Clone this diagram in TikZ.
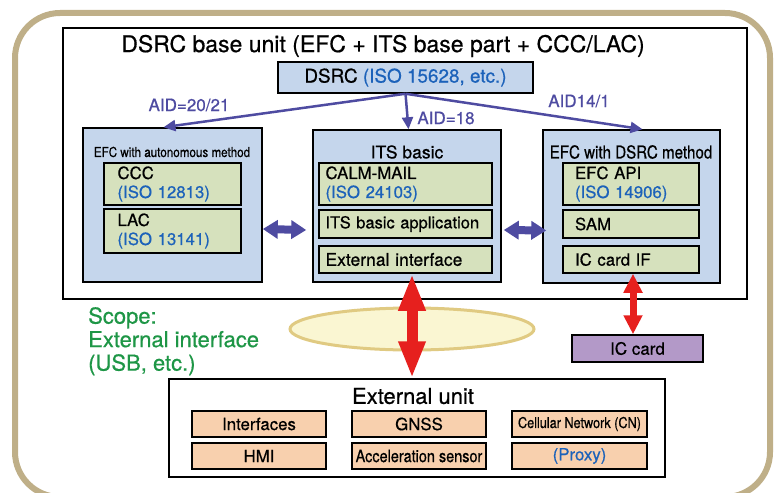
\documentclass[tikz,border=0pt]{standalone}
\usepackage{fontspec}
\setmainfont[FakeBold=0.6]{TeX Gyre Heros}
\newfontfamily\narrowfont[FakeStretch=0.85,FakeBold=0.6]{TeX Gyre Heros}
\usetikzlibrary{arrows.meta,shapes.geometric}

\definecolor{frametan}{RGB}{191,175,136}
\definecolor{grpblue}{RGB}{197,214,236}
\definecolor{modgreen}{RGB}{214,225,189}
\definecolor{extsalmon}{RGB}{248,208,174}
\definecolor{cardpurple}{RGB}{179,153,200}
\definecolor{aidpurple}{RGB}{78,75,161}
\definecolor{isoblue}{RGB}{28,98,186}
\definecolor{scopegreen}{RGB}{30,150,70}
\definecolor{ifred}{RGB}{230,32,30}
\definecolor{ellfill}{RGB}{250,246,210}
\definecolor{ellline}{RGB}{224,202,130}

\begin{document}
\begin{tikzpicture}[x=1pt,y=-1pt,
    unitbox/.style={draw,line width=1.5pt,inner sep=0pt},
    grpbox/.style={draw,fill=grpblue,line width=1.5pt,inner sep=0pt},
    modbox/.style={draw,fill=modgreen,line width=1.5pt,inner sep=0pt,align=left,
        font=\fontsize{16.8}{19}\selectfont},
    extbox/.style={draw,fill=extsalmon,line width=1.5pt,inner sep=0pt,
        minimum height=26pt,font=\fontsize{16.8}{19}\selectfont},
    bigtitle/.style={inner sep=0pt,font=\fontsize{23}{26}\selectfont},
    aidlabel/.style={inner sep=0pt,text=aidpurple,font=\fontsize{17}{20}\selectfont},
    aidarrow/.style={draw=aidpurple,line width=2.5pt,-{Triangle[width=11pt,length=12pt]}},
    linkarrow/.style={draw=aidpurple,line width=8pt,
        {Triangle[width=18pt,length=15pt]}-{Triangle[width=18pt,length=15pt]}},
    ifarrow/.style={draw=ifred,line width=11pt,
        {Triangle[width=25pt,length=37pt]}-{Triangle[width=25pt,length=37pt]}},
    cardarrow/.style={draw=ifred,line width=7pt,
        {Triangle[width=18pt,length=19pt]}-{Triangle[width=18pt,length=19pt]}}]

\useasboundingbox (0,0) rectangle (778,492);

% outer frame
\draw[frametan,line width=6pt,rounded corners=45pt] (15,13) rectangle (770,497);

% DSRC base unit
\node[unitbox,minimum width=684pt,minimum height=271pt] (baseunit) at (405,163.5) {};
\node[bigtitle] (basetitle) at (383,46) {DSRC base unit (EFC + ITS base part + CCC/LAC)};
\node[grpbox,minimum width=255pt,minimum height=31pt,font=\fontsize{18.9}{22}\selectfont]
    (dsrc) at (405.5,77.5) {DSRC \textcolor{isoblue}{(ISO 15628, etc.)}};

% EFC with autonomous method
\node[grpbox,minimum width=179pt,minimum height=154pt] (efcauto) at (172.5,205) {};
\node[inner sep=0pt,font=\narrowfont\fontsize{13.7}{16}\selectfont] (autotitle) at (172,152)
    {EFC with autonomous method};
\node[modbox,minimum width=137pt,minimum height=42pt,text width=110pt] (ccc) at (172.5,184)
    {CCC\\\textcolor{isoblue}{(ISO 12813)}};
\node[modbox,minimum width=137pt,minimum height=44pt,text width=110pt] (lac) at (172.5,231)
    {LAC\\\textcolor{isoblue}{(ISO 13141)}};

% ITS basic
\node[grpbox,minimum width=188pt,minimum height=152pt] (itsbasic) at (407,206) {};
\node[inner sep=0pt,font=\fontsize{17.5}{20}\selectfont] (itstitle) at (407,152) {ITS basic};
\node[modbox,minimum width=173pt,minimum height=42pt,text width=160pt] (calm) at (405.5,184)
    {CALM-MAIL\\\textcolor{isoblue}{(ISO 24103)}};
\node[modbox,minimum width=173pt,minimum height=28pt,text width=160pt,
    font=\fontsize{16.5}{19}\selectfont] (itsapp) at (405.5,224) {ITS basic application};
\node[modbox,minimum width=173pt,minimum height=27pt,text width=160pt,
    font=\fontsize{17.5}{19}\selectfont] (extif) at (405.5,259.5) {External interface};

% EFC with DSRC method
\node[grpbox,minimum width=177pt,minimum height=153pt] (efcdsrc) at (631.5,206.5) {};
\node[inner sep=0pt,font=\narrowfont\fontsize{17.8}{20}\selectfont] (dsrctitle) at (631,152)
    {EFC with DSRC method};
\node[modbox,minimum width=136pt,minimum height=42pt,text width=112pt] (efcapi) at (631,184)
    {EFC API\\\textcolor{isoblue}{(ISO 14906)}};
\node[modbox,minimum width=136pt,minimum height=28pt,text width=112pt] (sam) at (631,224)
    {SAM};
\node[modbox,minimum width=136pt,minimum height=27pt,text width=112pt] (icif) at (631,259.5)
    {IC card IF};

% AID arrows
\draw[aidarrow] (dsrc.south) -- ([xshift=-9pt]efcauto.north);
\draw[aidarrow] (dsrc.south) -- ([xshift=1.5pt]itsbasic.north);
\draw[aidarrow] (dsrc.south) -- ([xshift=11pt]efcdsrc.north);
\node[aidlabel] (aidauto) at (189,105) {AID=20/21};
\node[aidlabel] (aidits) at (446,118) {AID=18};
\node[aidlabel] (aiddsrc) at (579,101) {AID14/1};

% links between the parts
\draw[linkarrow] ([yshift=-24pt]efcauto.east) -- ([yshift=-24pt,xshift=-6pt]itsbasic.west);
\draw[linkarrow] ([yshift=-24pt,xshift=2pt]itsbasic.east) -- ([yshift=-24pt,xshift=4pt]efcdsrc.west);

% scope
\node[ellipse,draw=ellline,fill=ellfill,line width=3pt,minimum width=244pt,minimum height=42pt]
    (scopeell) at (412,329) {};
\node[anchor=north west,inner sep=0pt,align=left,text=scopegreen,
    font=\fontsize{22}{23.5}\selectfont] (scope) at (88,307)
    {Scope:\\External interface\\(USB, etc.)};

% IC card
\node[draw,fill=cardpurple,line width=1.5pt,inner sep=0pt,minimum width=131pt,minimum height=27pt,
    font=\fontsize{17}{20}\selectfont] (iccard) at (637.5,348.5) {IC card};

% External unit
\node[unitbox,minimum width=496pt,minimum height=98pt] (extunit) at (417,428) {};
\node[inner sep=0pt,font=\fontsize{22}{26}\selectfont] (exttitle) at (413,396) {External unit};
\node[extbox,minimum width=134pt] (interfaces) at (259,424) {Interfaces};
\node[extbox,minimum width=134pt] (hmi) at (259,456) {HMI};
\node[extbox,minimum width=134pt] (gnss) at (419,424) {GNSS};
\node[extbox,minimum width=134pt,font=\narrowfont\fontsize{17}{19}\selectfont] (accel) at (419,456)
    {Acceleration sensor};
\node[extbox,minimum width=135pt,font=\narrowfont\fontsize{14.9}{18}\selectfont] (cellular) at (579.5,424)
    {Cellular Network (CN)};
\node[extbox,minimum width=135pt,text=isoblue] (proxy) at (579.5,456) {(Proxy)};

% external interfaces
\draw[ifarrow] ([xshift=6.5pt]extif.south) -- ([xshift=-5pt]extunit.north);
\draw[cardarrow] ([xshift=2pt]icif.south) -- ([xshift=-4.5pt]iccard.north);

\end{tikzpicture}
\end{document}
